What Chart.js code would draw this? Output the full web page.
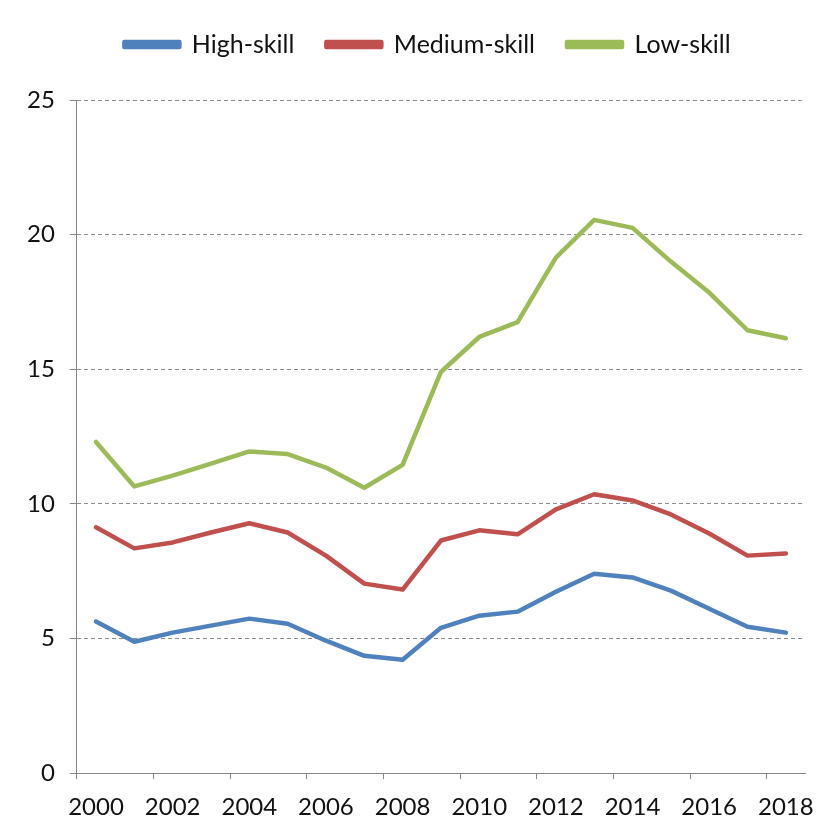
<!DOCTYPE html>
<html lang="en">
<head>
<meta charset="UTF-8" />
<title>Skill groups</title>
<script src="https://cdn.jsdelivr.net/npm/chart.js"></script>
<style>
  html, body { margin: 0; padding: 0; background: #fff; }
  #wrap { width: 833px; height: 836px; position: relative; }
</style>
</head>
<body>
<div id="wrap"><canvas id="myChart"></canvas></div>
<script>
// years on the category axis
const years = [2000, 2001, 2002, 2003, 2004, 2005, 2006, 2007, 2008, 2009,
               2010, 2011, 2012, 2013, 2014, 2015, 2016, 2017, 2018];

const highSkill = [5.63, 4.88, 5.22, 5.48, 5.74, 5.55, 4.92, 4.36, 4.21, 5.40,
                   5.85, 6.00, 6.74, 7.41, 7.27, 6.78, 6.11, 5.44, 5.22];
const mediumSkill = [9.13, 8.35, 8.57, 8.94, 9.28, 8.94, 8.08, 7.04, 6.82, 8.64,
                     9.02, 8.87, 9.80, 10.36, 10.13, 9.61, 8.90, 8.08, 8.16];
const lowSkill = [12.30, 10.65, 11.05, 11.50, 11.95, 11.85, 11.35, 10.60, 11.45, 14.90,
                  16.20, 16.75, 19.15, 20.55, 20.25, 19.00, 17.85, 16.45, 16.15];

const yTicks = [0, 5, 10, 15, 20, 25];

const FONT = 'Lato, "Open Sans", sans-serif';
const AXIS = "#868686";

function series(label, data, color) {
  return {
    label: label,
    data: data,
    borderColor: color,
    backgroundColor: color,
    borderWidth: 4.5,
    borderCapStyle: "round",
    borderJoinStyle: "round",
    pointRadius: 0,
    tension: 0,
    fill: false
  };
}

// extra room under the legend, and nudge it a bit to the right
const legendSpacing = {
  id: "legendSpacing",
  beforeInit(chart) {
    const fit = chart.legend.fit;
    chart.legend.fit = function () {
      fit.bind(chart.legend)();
      this.height += 33;
    };
  },
  afterLayout(chart) {
    chart.legend.left += 19;
    chart.legend.right += 19;
  }
};

const ctx = document.getElementById("myChart").getContext("2d");
const myChart = new Chart(ctx, {
  type: "line",
  data: {
    labels: years.map(String),
    datasets: [
      series("High-skill", highSkill, "#4F81BD"),
      series("Medium-skill", mediumSkill, "#C0504D"),
      series("Low-skill", lowSkill, "#9BBB59")
    ]
  },
  plugins: [legendSpacing],
  options: {
    responsive: true,
    maintainAspectRatio: false,
    animation: false,
    layout: { padding: { top: 0, right: 28, bottom: 0, left: 12 } },
    plugins: {
      legend: {
        position: "top",
        labels: {
          color: "#111",
          font: { family: FONT, size: 25 },
          boxWidth: 55,
          boxHeight: 5,
          padding: 32
        }
      },
      tooltip: { enabled: false }
    },
    scales: {
      x: {
        offset: true,
        grid: {
          offset: true,
          drawOnChartArea: false,
          tickLength: 6,
          color: (c) => (c.index !== undefined && c.index % 2 === 0) ? AXIS : "transparent"
        },
        border: { color: AXIS, width: 1 },
        ticks: {
          autoSkip: false,
          maxRotation: 0,
          color: "#111",
          padding: 14,
          font: { family: FONT, size: 24 },
          callback: function (value, index) {
            return index % 2 === 0 ? this.getLabelForValue(value) : "";
          }
        }
      },
      y: {
        min: yTicks[0],
        max: yTicks[yTicks.length - 1],
        afterBuildTicks: (scale) => { scale.ticks = yTicks.map((v) => ({ value: v })); },
        grid: {
          color: "#8c8c8c",
          lineWidth: 1,
          tickLength: 7,
          tickColor: AXIS,
          tickBorderDash: []
        },
        border: { color: AXIS, width: 1, dash: [4, 3] },
        ticks: {
          color: "#111",
          padding: 15,
          font: { family: FONT, size: 24 }
        }
      }
    }
  }
});
</script>
</body>
</html>
